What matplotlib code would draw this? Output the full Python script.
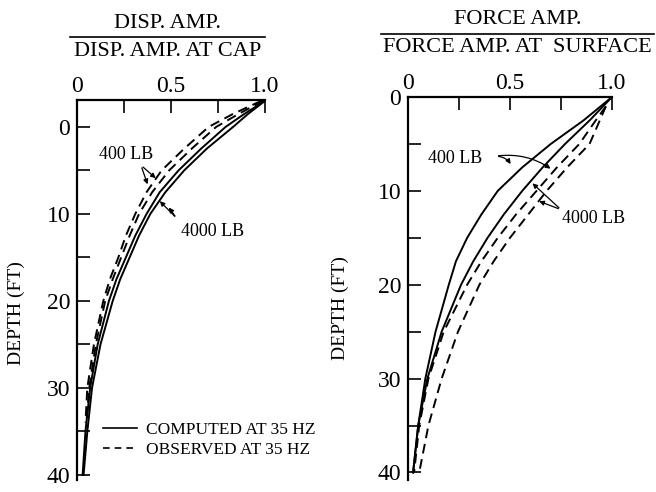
import matplotlib.pyplot as plt
from matplotlib.lines import Line2D

plt.rcParams['font.family'] = ['Liberation Serif', 'DejaVu Serif']

# left panel: displacement amplitude ratio vs depth
disp_depth_comp = [-3, -1.5, 0, 2.5, 5, 7.5, 10, 12.5, 15, 17.5, 20, 25, 30, 35, 40]
disp_comp_400 = [1.0, 0.89, 0.79, 0.66, 0.54, 0.44, 0.37, 0.31, 0.26, 0.21, 0.17, 0.11, 0.07, 0.045, 0.03]
disp_comp_4000 = [1.0, 0.91, 0.83, 0.69, 0.57, 0.47, 0.39, 0.33, 0.28, 0.23, 0.19, 0.125, 0.08, 0.055, 0.035]
disp_depth_obs = [-3, -1.5, 0, 2.5, 5, 7.5, 10, 12.5, 15, 17.5, 20, 25, 30, 34]
disp_obs_400 = [0.98, 0.83, 0.70, 0.57, 0.45, 0.37, 0.31, 0.26, 0.22, 0.175, 0.14, 0.09, 0.055, 0.045]
disp_obs_4000 = [0.99, 0.86, 0.74, 0.61, 0.49, 0.40, 0.33, 0.28, 0.235, 0.19, 0.15, 0.10, 0.065, 0.05]

# right panel: force amplitude ratio vs depth
force_depth_comp = [0, 2.5, 5, 7.5, 10, 12.5, 15, 17.5, 20, 25, 30, 35, 40]
force_comp_400 = [1.0, 0.86, 0.70, 0.56, 0.44, 0.36, 0.29, 0.235, 0.20, 0.135, 0.085, 0.05, 0.025]
force_comp_4000 = [1.0, 0.89, 0.77, 0.66, 0.56, 0.47, 0.39, 0.32, 0.26, 0.165, 0.095, 0.05, 0.025]
force_depth_obs = [1, 2.5, 5, 7.5, 10, 12.5, 15, 17.5, 20, 25, 30, 35, 40]
force_obs_400 = [0.97, 0.92, 0.84, 0.73, 0.63, 0.53, 0.44, 0.36, 0.29, 0.175, 0.10, 0.055, 0.03]
force_obs_4000 = [0.97, 0.94, 0.89, 0.78, 0.68, 0.59, 0.50, 0.42, 0.35, 0.245, 0.165, 0.10, 0.055]

fig = plt.figure(figsize=(6.56, 4.92), dpi=100)
ax1 = fig.add_axes([77 / 656, 1 - 480 / 492, 188 / 656, 380 / 492])
ax2 = fig.add_axes([408 / 656, 1 - 480 / 492, 204 / 656, 383 / 492])

lw = 1.4
dash = (0, (5, 3))


def style(ax, ytop, ybot, ylab_x, ylab_y):
    ax.set_xlim(0, 1.0)
    ax.set_ylim(ybot, ytop)
    for s in ['right', 'bottom']:
        ax.spines[s].set_visible(False)
    for s in ['left', 'top']:
        ax.spines[s].set_linewidth(1.6)
    ax.xaxis.tick_top()
    ax.set_xticks([0, 0.5, 1.0])
    ax.set_xticklabels(['0', '0.5', '1.0'], fontsize=17)
    ax.set_xticks([0.25, 0.75], minor=True)
    ax.set_yticks([0, 10, 20, 30, 40])
    ax.set_yticks([5, 15, 25, 35], minor=True)
    ax.tick_params(axis='y', labelsize=17, pad=5)
    ax.tick_params(axis='x', pad=2)
    ax.tick_params(which='both', direction='in', length=9, width=1.2, top=True, left=True)
    ax.set_ylabel('DEPTH (FT)', fontsize=14)
    ax.yaxis.set_label_coords(ylab_x, ylab_y)


style(ax1, -3.1, 40.6, -0.275, 0.44)
style(ax2, 0, 40.8, -0.29, 0.45)

ax1.plot(disp_comp_400, disp_depth_comp, color='black', lw=lw)
ax1.plot(disp_comp_4000, disp_depth_comp, color='black', lw=lw)
ax1.plot(disp_obs_400, disp_depth_obs, color='black', lw=lw, linestyle=dash)
ax1.plot(disp_obs_4000, disp_depth_obs, color='black', lw=lw, linestyle=dash)

ax2.plot(force_comp_400, force_depth_comp, color='black', lw=lw)
ax2.plot(force_comp_4000, force_depth_comp, color='black', lw=lw)
ax2.plot(force_obs_400, force_depth_obs, color='black', lw=lw, linestyle=dash)
ax2.plot(force_obs_4000, force_depth_obs, color='black', lw=lw, linestyle=dash)

ap = dict(arrowstyle='-|>', lw=0.9, color='black', mutation_scale=7)

# left annotations
ax1.text(0.26, 3.2, '400 LB', fontsize=13, ha='center', va='center')
ax1.annotate('', xy=(0.38, 6.9), xytext=(0.34, 4.4), arrowprops=ap)
ax1.annotate('', xy=(0.43, 6.1), xytext=(0.34, 4.4), arrowprops=ap)
ax1.text(0.72, 12.0, '4000 LB', fontsize=13, ha='center', va='center')
ax1.annotate('', xy=(0.43, 8.3), xytext=(0.53, 10.5), arrowprops=ap)
ax1.annotate('', xy=(0.48, 9.0), xytext=(0.53, 10.5), arrowprops=ap)

# right annotations
ax2.text(0.23, 6.6, '400 LB', fontsize=13, ha='center', va='center')
ax2.annotate('', xy=(0.51, 7.4), xytext=(0.43, 6.3),
             arrowprops=dict(ap, connectionstyle='arc3,rad=-0.3'))
ax2.annotate('', xy=(0.71, 7.8), xytext=(0.43, 6.3),
             arrowprops=dict(ap, connectionstyle='arc3,rad=-0.2'))
ax2.text(0.91, 12.9, '4000 LB', fontsize=13, ha='center', va='center')
ax2.annotate('', xy=(0.60, 9.0), xytext=(0.75, 12.0), arrowprops=ap)
ax2.annotate('', xy=(0.63, 11.0), xytext=(0.75, 12.0), arrowprops=ap)

# legend
handles = [Line2D([], [], color='black', lw=1.2),
           Line2D([], [], color='black', lw=1.2, linestyle=(0, (4, 3)))]
ax1.legend(handles, ['COMPUTED AT 35 HZ', 'OBSERVED AT 35 HZ'], loc='upper left',
           bbox_to_anchor=(0.1, 0.17), frameon=False, fontsize=12.5,
           handlelength=2.0, handletextpad=0.5, labelspacing=0.2, borderaxespad=0)

# fraction titles
def frac(x0, x1, y_num, y_line, y_den, num, den):
    xc = (x0 + x1) / 2 / 656
    fig.text(xc, 1 - y_num / 492, num, ha='center', va='center', fontsize=16)
    fig.add_artist(Line2D([x0 / 656, x1 / 656], [1 - y_line / 492] * 2,
                          color='black', lw=1.2))
    fig.text(xc, 1 - y_den / 492, den, ha='center', va='center', fontsize=16)


frac(70, 265, 24, 37, 52, 'DISP. AMP.', 'DISP. AMP. AT CAP')
frac(381, 654, 20, 34, 48, 'FORCE AMP.', 'FORCE AMP. AT  SURFACE')

fig.savefig('out.png', dpi=100)
